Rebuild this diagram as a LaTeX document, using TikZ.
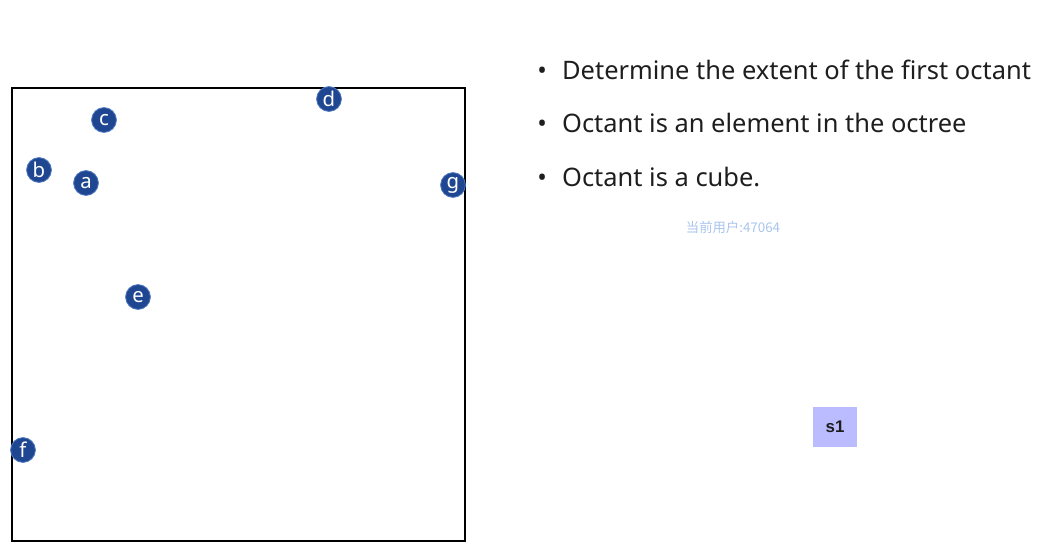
\documentclass[tikz,border=0pt]{standalone}
\usepackage{fontspec}
\setmainfont{Noto Sans}
\newfontfamily\cjk{Noto Sans CJK SC}
\newfontfamily\boxfont{Liberation Sans}
\definecolor{ptfill}{HTML}{1F4690}
\definecolor{ptring}{HTML}{4F78C0}
\definecolor{wmark}{HTML}{A9C5EE}
\definecolor{boxfill}{HTML}{BBBBFF}
\definecolor{txt}{HTML}{1E1E1E}
\begin{document}
\begin{tikzpicture}[
  x=0.025cm, y=-0.025cm,
  pt/.style={circle, fill=ptfill, draw=ptring, line width=0.6pt,
             inner sep=0pt, minimum size=0.62cm, text=white,
             font=\fontsize{14.5}{14.5}\selectfont},
  itm/.style={anchor=base west, inner sep=0pt, text=txt,
              font=\fontsize{18.1}{19}\selectfont},
  sbox/.style={fill=boxfill, minimum width=1.1cm, minimum height=1cm,
               inner sep=0pt, text=txt, font=\boxfont\fontsize{12}{12}\selectfont\bfseries}
]
  \useasboundingbox (0,0) rectangle (1063,554);
  %% --- Octant frame ---
  \draw[line width=1.4pt] (12,88) rectangle (465,541);
  %% --- Points ---
  \node[pt] (c) at (104,120) {c};
  \node[pt] (d) at (329,99)  {d};
  \node[pt] (b) at (39,170)  {b};
  \node[pt] (a) at (86,183)  {a};
  \node[pt] (g) at (453,185) {g};
  \node[pt] (e) at (138,297) {e};
  \node[pt] (f) at (23,450)  {f};
  %% --- Bullet list ---
  \node[itm] (l1) at (537,79)  {\textbullet\hspace{0.6em}Determine the extent of the first octant};
  \node[itm] (l2) at (537,132) {\textbullet\hspace{0.6em}Octant is an element in the octree};
  \node[itm] (l3) at (537,186) {\textbullet\hspace{0.6em}Octant is a cube.};
  %% --- Watermark and label ---
  \node[text=wmark, font=\cjk\fontsize{9.5}{10}\selectfont] (wm) at (733,227) {当前用户:47064};
  \node[sbox] (s1) at (835,427) {s1};
\end{tikzpicture}
\end{document}
